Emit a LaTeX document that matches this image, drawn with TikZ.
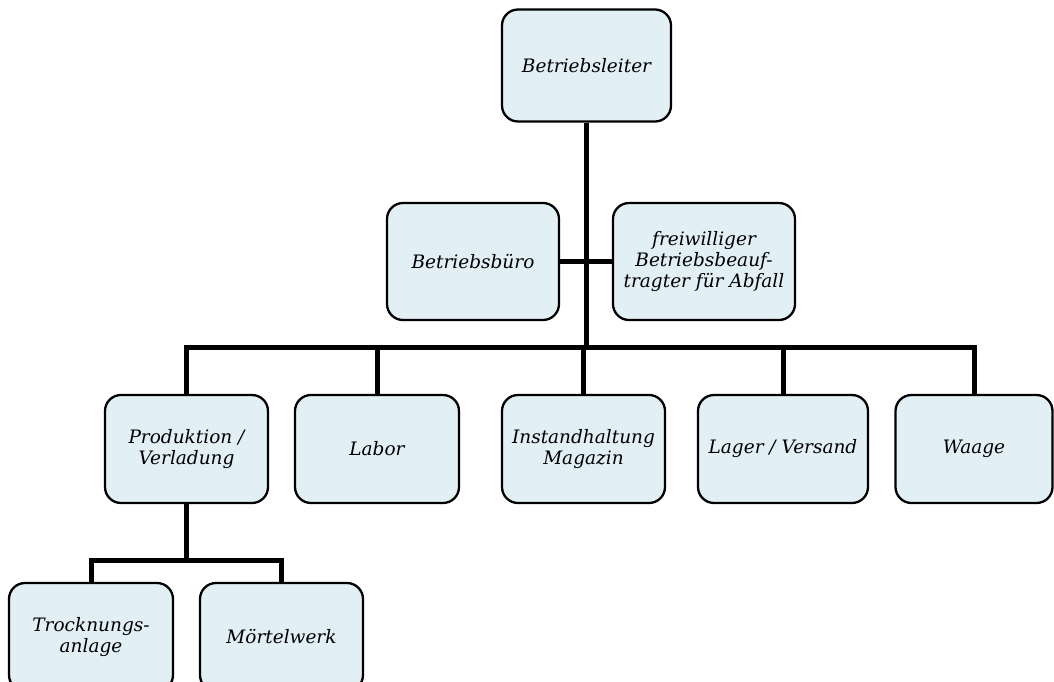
\documentclass[tikz,border=0pt]{standalone}
\usepackage{fontspec}
\setmainfont{DejaVu Serif}
\definecolor{boxfill}{RGB}{226,239,245}
\begin{document}
\begin{tikzpicture}[x=1pt,y=-1pt,
  orgbox/.style={draw=black, line width=2.3pt, fill=boxfill, rounded corners=16pt,
    align=center, inner sep=2pt, font=\fontsize{18.5}{21}\selectfont\itshape},
  conn/.style={line width=5pt, draw=black}]
\useasboundingbox (0,0) rectangle (1054,681);
\node[orgbox, minimum width=169pt, minimum height=112pt] (top) at (586.5,65.5) {Betriebsleiter};
\node[orgbox, minimum width=172pt, minimum height=117pt] (buero) at (473,261.5) {Betriebsbüro};
\node[orgbox, minimum width=182pt, minimum height=117pt] (abfall) at (704,261.5) {freiwilliger\\Betriebsbeauf-\\tragter für Abfall};
\node[orgbox, minimum width=163pt, minimum height=108pt] (prod) at (186.5,449) {Produktion /\\Verladung};
\node[orgbox, minimum width=164pt, minimum height=108pt] (labor) at (377,449) {Labor};
\node[orgbox, minimum width=163pt, minimum height=108pt] (inst) at (583.5,449) {Instandhaltung\\Magazin};
\node[orgbox, minimum width=170pt, minimum height=108pt] (lager) at (783,449) {Lager / Versand};
\node[orgbox, minimum width=157pt, minimum height=108pt] (waage) at (974,449) {Waage};
\node[orgbox, minimum width=164pt, minimum height=108pt] (trock) at (91,637) {Trocknungs-\\anlage};
\node[orgbox, minimum width=163pt, minimum height=108pt] (moertel) at (281.5,637) {Mörtelwerk};
\coordinate (j) at (586.5,347);
\coordinate (j2) at (186.5,560);
\draw[conn] (top.south) -- (j);
\draw[conn] (buero.east) -- (abfall.west);
\draw[conn] (prod.north) |- (j) -| (waage.north);
\draw[conn] (labor.north) -- (labor.north |- j);
\draw[conn] (inst.north) -- (inst.north |- j);
\draw[conn] (lager.north) -- (lager.north |- j);
\draw[conn] (prod.south) -- (j2);
\draw[conn] (trock.north) |- (j2) -| (moertel.north);
\end{tikzpicture}
\end{document}
